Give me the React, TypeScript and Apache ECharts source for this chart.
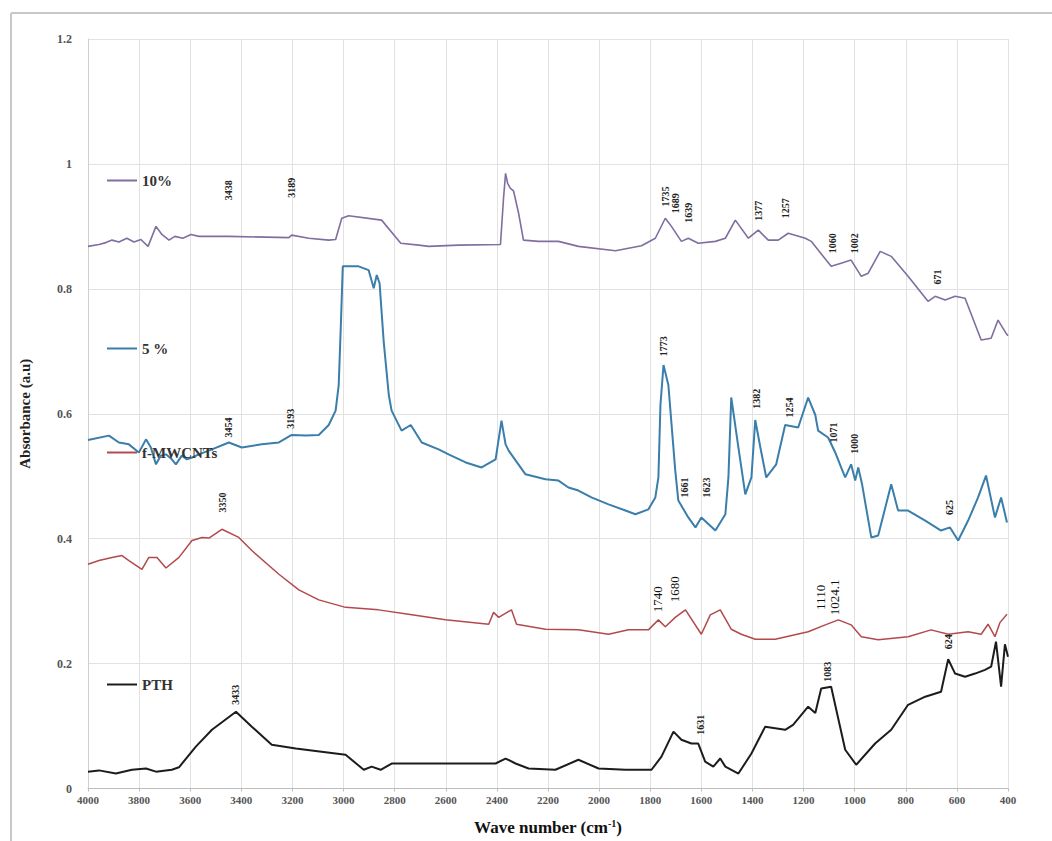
import React, { useEffect, useRef } from "react";
import * as echarts from "echarts";

// ---- Data (wavenumber cm^-1, absorbance a.u.) ----
const seriesNames = ["10%", "5 %", "f-MWCNTs", "PTH"];

const tenPct: [number, number][] = [
  [4000, 0.868], [3957, 0.871], [3930, 0.874], [3906, 0.878], [3879, 0.875], [3848, 0.881], [3820, 0.875],
  [3793, 0.879], [3765, 0.868], [3734, 0.9], [3711, 0.887], [3683, 0.878], [3660, 0.884],
  [3629, 0.881], [3597, 0.887], [3566, 0.884], [3449, 0.884], [3214, 0.882], [3203, 0.886],
  [3136, 0.881], [3058, 0.878], [3031, 0.879], [3007, 0.913], [2980, 0.917], [2851, 0.91],
  [2776, 0.873], [2706, 0.87], [2667, 0.868], [2550, 0.87], [2386, 0.871], [2374, 0.945],
  [2366, 0.985], [2358, 0.969], [2347, 0.961], [2335, 0.957], [2315, 0.921], [2296, 0.878],
  [2237, 0.876], [2159, 0.876], [2081, 0.868], [1936, 0.861], [1834, 0.869], [1780, 0.881],
  [1741, 0.913], [1717, 0.9], [1678, 0.876], [1651, 0.881], [1612, 0.873], [1545, 0.876],
  [1506, 0.881], [1467, 0.91], [1416, 0.881], [1377, 0.894], [1338, 0.878], [1299, 0.878],
  [1260, 0.889], [1193, 0.881], [1170, 0.876], [1092, 0.836], [1053, 0.841], [1014, 0.846],
  [974, 0.82], [947, 0.825], [900, 0.86], [857, 0.852], [791, 0.82], [713, 0.78], [685, 0.788],
  [646, 0.782], [607, 0.788], [568, 0.785], [505, 0.718], [466, 0.721], [439, 0.75], [408, 0.729],
  [400, 0.725],
];

const fivePct: [number, number][] = [
  [4000, 0.558], [3918, 0.565], [3879, 0.554], [3840, 0.551], [3801, 0.538], [3773, 0.559],
  [3754, 0.546], [3734, 0.519], [3715, 0.533], [3695, 0.535], [3672, 0.527], [3656, 0.519],
  [3633, 0.533], [3613, 0.527], [3593, 0.53], [3566, 0.535], [3515, 0.543], [3449, 0.554],
  [3398, 0.546], [3320, 0.551], [3253, 0.554], [3203, 0.566], [3148, 0.565], [3097, 0.566],
  [3058, 0.582], [3031, 0.605], [3019, 0.646], [3011, 0.737], [3003, 0.836], [2941, 0.836],
  [2902, 0.83], [2882, 0.801], [2870, 0.822], [2859, 0.809], [2843, 0.716], [2823, 0.63],
  [2812, 0.605], [2773, 0.573], [2737, 0.582], [2694, 0.554], [2628, 0.543], [2589, 0.535],
  [2522, 0.522], [2460, 0.514], [2405, 0.527], [2382, 0.589], [2366, 0.551], [2354, 0.541],
  [2288, 0.503], [2210, 0.495], [2159, 0.493], [2120, 0.482], [2081, 0.477], [2030, 0.466],
  [1963, 0.455], [1897, 0.445], [1858, 0.439], [1807, 0.447], [1780, 0.466], [1768, 0.498],
  [1760, 0.614], [1748, 0.678], [1729, 0.646], [1702, 0.509], [1690, 0.461], [1651, 0.434],
  [1623, 0.418], [1600, 0.434], [1545, 0.413], [1506, 0.439], [1494, 0.498], [1483, 0.626],
  [1455, 0.546], [1428, 0.471], [1404, 0.498], [1389, 0.59], [1369, 0.546], [1346, 0.498],
  [1307, 0.519], [1272, 0.582], [1221, 0.578], [1182, 0.626], [1154, 0.598], [1143, 0.573],
  [1104, 0.562], [1076, 0.538], [1053, 0.514], [1037, 0.498], [1014, 0.519], [998, 0.493],
  [986, 0.514], [971, 0.487], [935, 0.402], [908, 0.405], [857, 0.487], [830, 0.445],
  [791, 0.445], [724, 0.429], [662, 0.413], [627, 0.418], [595, 0.397], [556, 0.429],
  [517, 0.466], [486, 0.501], [451, 0.434], [427, 0.466], [404, 0.426],
];

const fMwcnts: [number, number][] = [
  [4000, 0.359], [3957, 0.365], [3906, 0.37], [3867, 0.373], [3840, 0.365], [3789, 0.351],
  [3762, 0.37], [3730, 0.37], [3695, 0.353], [3644, 0.37], [3593, 0.397], [3554, 0.402],
  [3527, 0.401], [3476, 0.415], [3410, 0.402], [3359, 0.381], [3253, 0.343], [3175, 0.318],
  [3097, 0.302], [2992, 0.29], [2863, 0.286], [2733, 0.278], [2601, 0.27], [2432, 0.263],
  [2413, 0.282], [2393, 0.274], [2343, 0.286], [2323, 0.263], [2210, 0.255], [2081, 0.254],
  [1963, 0.247], [1885, 0.254], [1807, 0.254], [1768, 0.27], [1741, 0.259], [1702, 0.274],
  [1662, 0.286], [1600, 0.247], [1565, 0.278], [1526, 0.286], [1483, 0.255], [1444, 0.247],
  [1389, 0.239], [1311, 0.239], [1182, 0.251], [1115, 0.262], [1064, 0.27], [1014, 0.262],
  [974, 0.243], [908, 0.238], [791, 0.243], [701, 0.254], [634, 0.247], [556, 0.251],
  [505, 0.247], [478, 0.263], [451, 0.243], [431, 0.266], [404, 0.279],
];

const pth: [number, number][] = [
  [4000, 0.027], [3957, 0.029], [3891, 0.024], [3828, 0.03], [3773, 0.032], [3734, 0.027],
  [3672, 0.03], [3644, 0.034], [3578, 0.067], [3515, 0.094], [3421, 0.123], [3359, 0.099],
  [3281, 0.07], [3187, 0.064], [3086, 0.059], [2992, 0.054], [2921, 0.03], [2890, 0.035],
  [2855, 0.03], [2812, 0.04], [2601, 0.04], [2405, 0.04], [2366, 0.048], [2327, 0.04],
  [2276, 0.032], [2171, 0.03], [2081, 0.046], [2002, 0.032], [1897, 0.03], [1795, 0.03],
  [1756, 0.051], [1709, 0.091], [1678, 0.078], [1639, 0.072], [1612, 0.072], [1585, 0.043],
  [1553, 0.035], [1526, 0.048], [1506, 0.035], [1455, 0.024], [1404, 0.056], [1350, 0.099],
  [1272, 0.094], [1241, 0.102], [1182, 0.131], [1154, 0.121], [1131, 0.16], [1092, 0.163],
  [1072, 0.126], [1037, 0.062], [994, 0.038], [920, 0.072], [857, 0.094], [791, 0.134],
  [724, 0.147], [662, 0.155], [634, 0.207], [607, 0.184], [568, 0.179], [529, 0.184],
  [490, 0.19], [466, 0.195], [447, 0.235], [427, 0.163], [412, 0.231], [400, 0.211],
];

// Peak annotations: [wavenumber, absorbance, text]
const tenPctPeaks: [number, number, string][] = [
  [3449, 0.958, "3438"], [3203, 0.962, "3189"], [1741, 0.948, "1735"], [1702, 0.937, "1689"],
  [1651, 0.922, "1639"], [1377, 0.925, "1377"], [1272, 0.929, "1257"], [1088, 0.873, "1060"],
  [1002, 0.873, "1002"], [677, 0.819, "671"],
];
const fivePctPeaks: [number, number, string][] = [
  [3449, 0.578, "3454"], [3206, 0.592, "3193"], [1748, 0.708, "1773"], [1385, 0.624, "1382"],
  [1256, 0.61, "1254"], [1084, 0.57, "1071"], [1002, 0.552, "1000"], [1666, 0.482, "1661"],
  [1580, 0.482, "1623"], [627, 0.45, "625"],
];
const fMwcntsPeaks: [number, number, string][] = [
  [3472, 0.458, "3350"], [1772, 0.303, "1740"], [1705, 0.319, "1680"], [1135, 0.306, "1110"],
  [1080, 0.306, "1024.1"],
];
const pthPeaks: [number, number, string][] = [
  [3421, 0.15, "3433"], [1604, 0.102, "1631"], [1107, 0.187, "1083"], [634, 0.235, "624"],
];

const colors = ["#7f6e9f", "#3a7eab", "#b24a4c", "#1c1c1c"];
const largeLabels = ["1740", "1680", "1110", "1024.1"];
const SERIF = "'Liberation Serif', 'DejaVu Serif', serif";

function peakMarks(peaks: [number, number, string][]) {
  return {
    symbol: "rect",
    symbolSize: 1,
    silent: true,
    itemStyle: { color: "rgba(0,0,0,0)" },
    label: {
      show: true,
      position: "inside",
      rotate: 90,
      formatter: "{b}",
      fontFamily: SERIF,
      fontWeight: "bold",
      fontSize: 10,
      color: "#222",
    },
    data: peaks.map(([w, v, t]) => ({
      name: t,
      coord: [w, v],
      label: largeLabels.includes(t) ? { fontSize: 13, fontWeight: "normal", color: "#111" } : undefined,
    })),
  };
}

export default function App() {
  const ref = useRef<HTMLDivElement>(null);
  useEffect(() => {
    if (!ref.current) return;
    const chart = echarts.init(ref.current, undefined, { renderer: "svg" });
    const datasets = [tenPct, fivePct, fMwcnts, pth];
    const peaks = [tenPctPeaks, fivePctPeaks, fMwcntsPeaks, pthPeaks];
    const widths = [1.6, 2, 1.5, 2];
    const legendTops = [168, 336, 440, 672];
    chart.setOption({
      animation: false,
      backgroundColor: "#fff",
      graphic: [
        { type: "line", shape: { x1: 11, y1: 13, x2: 1052, y2: 13 }, style: { stroke: "#c8c8c8", lineWidth: 2 } },
        { type: "line", shape: { x1: 11, y1: 13, x2: 11, y2: 841 }, style: { stroke: "#c8c8c8", lineWidth: 2 } },
      ],
      grid: { left: 88, right: 44, top: 39, bottom: 48 },
      legend: seriesNames.map((n, i) => ({
        data: [{ name: n, icon: "rect" }],
        left: 102,
        top: legendTops[i],
        icon: "rect",
        itemWidth: 30,
        itemHeight: 2,
        itemStyle: { borderWidth: 0 },
        textStyle: { fontFamily: SERIF, fontWeight: "bold", fontSize: 15, color: "#333" },
      })),
      xAxis: {
        type: "value",
        inverse: true,
        min: 400,
        max: 4000,
        interval: 200,
        name: "Wave number (cm{sup|-1})",
        nameLocation: "middle",
        nameGap: 30,
        nameTextStyle: {
          fontFamily: SERIF,
          fontWeight: "bold",
          fontSize: 17,
          color: "#111",
          rich: { sup: { fontFamily: SERIF, fontWeight: "bold", fontSize: 10, verticalAlign: "top", padding: [0, 0, 8, 0], color: "#111" } },
        },
        axisLine: { show: true, lineStyle: { color: "#bdbdbd" } },
        axisTick: { show: true, length: 3, lineStyle: { color: "#bdbdbd" } },
        axisLabel: {
          fontFamily: SERIF,
          fontWeight: "bold",
          fontSize: 11,
          color: "#555",
          margin: 6,
          hideOverlap: false,
          formatter: (v: number) => String(v),
        },
        splitLine: { show: true, lineStyle: { color: "#e2e2e2" } },
      },
      yAxis: {
        type: "value",
        min: 0,
        max: 1.2,
        interval: 0.2,
        name: "Absorbance (a.u)",
        nameLocation: "middle",
        nameGap: 56,
        nameTextStyle: { fontFamily: SERIF, fontWeight: "bold", fontSize: 15, color: "#222" },
        axisLine: { show: true, lineStyle: { color: "#cfcfcf" } },
        axisTick: { show: false },
        axisLabel: { fontFamily: SERIF, fontWeight: "bold", fontSize: 12, color: "#555", margin: 16 },
        splitLine: { show: true, lineStyle: { color: "#e2e2e2" } },
      },
      series: seriesNames.map((n, i) => ({
        name: n,
        type: "line",
        data: datasets[i],
        showSymbol: false,
        symbol: "none",
        legendIcon: "rect",
        color: colors[i],
        itemStyle: { color: colors[i] },
        lineStyle: { width: widths[i], color: colors[i] },
        markPoint: peakMarks(peaks[i]),
        z: 2 + i,
      })),
    });
    return () => chart.dispose();
  }, []);
  return <div ref={ref} style={{ position: "fixed", left: 0, top: 0, width: 1052, height: 841 }} />;
}
